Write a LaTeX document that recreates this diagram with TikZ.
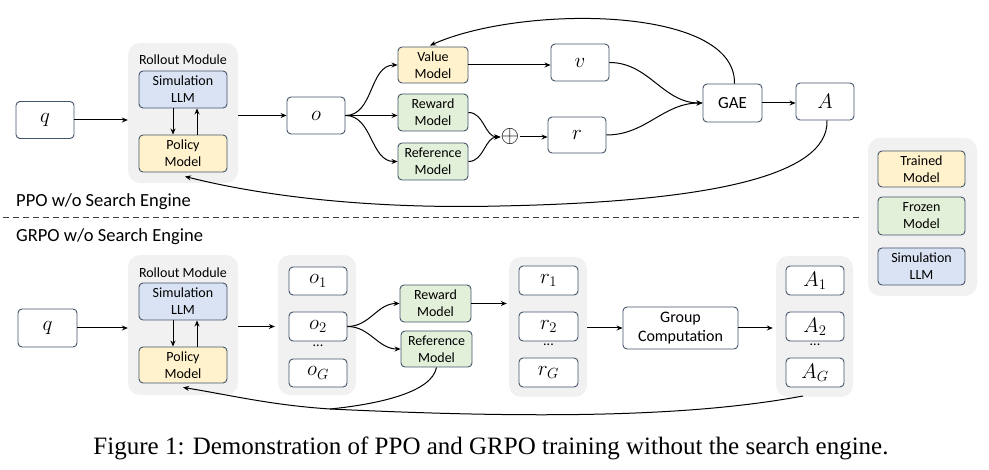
\RequirePackage{fix-cm}
\documentclass[tikz,border=0pt]{standalone}
\usepackage{fontspec}
\setmainfont{Carlito}
\newfontfamily\capfont{Liberation Serif}
\usetikzlibrary{arrows.meta,calc}
\definecolor{bordc}{HTML}{44546A}
\definecolor{grayfill}{HTML}{F1F1F1}
\definecolor{yellowfill}{HTML}{FFF2CC}
\definecolor{greenfill}{HTML}{E2F0D9}
\definecolor{bluefill}{HTML}{DAE3F3}
\definecolor{dashcol}{HTML}{404040}
\tikzset{
  box/.style={draw=bordc, line width=0.9pt, rounded corners=4pt, fill=white, align=center, inner sep=1pt, font=\fontsize{14}{17}\selectfont},
  mbox/.style={box, font=\fontsize{21}{22}\selectfont},
  ybox/.style={box, fill=yellowfill},
  gbox/.style={box, fill=greenfill},
  bbox/.style={box, fill=bluefill},
  grp/.style={draw=none, fill=grayfill, rounded corners=12pt},
  arr/.style={line width=1pt, -{Stealth[length=6pt,width=5pt]}},
  ln/.style={line width=1pt},
  sect/.style={anchor=west, inner sep=0pt, font=\fontsize{18.5}{20}\selectfont},
  lbl/.style={inner sep=0pt, font=\fontsize{14}{17}\selectfont},
}
\begin{document}
\begin{tikzpicture}[x=1pt,y=-1pt]
\useasboundingbox (0,0) rectangle (989,470);
% ================= PPO =================
\node[grp, minimum width=110, minimum height=140] (roll1) at (183,113) {};
\node[lbl] (roll1lbl) at (183,60) {Rollout Module};
\node[bbox, minimum width=88, minimum height=37] (sim1) at (183,89.5) {Simulation\\LLM};
\node[ybox, minimum width=88, minimum height=37] (pol1) at (183,153.5) {Policy\\Model};
\node[mbox, minimum width=58, minimum height=37] (q1) at (45,120) {$q$};
\node[mbox, minimum width=58, minimum height=37] (o) at (316,115.5) {$o$};
\node[ybox, minimum width=70, minimum height=36] (val) at (433,65) {Value\\Model};
\node[gbox, minimum width=70, minimum height=37] (rew) at (433,112.5) {Reward\\Model};
\node[gbox, minimum width=70, minimum height=37] (ref) at (433,161.5) {Reference\\Model};
\node[inner sep=0pt, font=\fontsize{24}{24}\selectfont] (plus) at (510,137) {$\oplus$};
\node[mbox, minimum width=58, minimum height=36] (r) at (577,135) {$r$};
\node[mbox, minimum width=58, minimum height=37] (v) at (580,62.5) {$v$};
\node[box, font=\fontsize{17}{20}\selectfont, minimum width=59, minimum height=38] (gae) at (732.5,103) {GAE};
\node[mbox, minimum width=58, minimum height=37] (A) at (825,101.5) {$A$};

\draw[arr] (q1.east) -- (roll1.west |- q1.east);
\draw[arr] (roll1.east |- o.west) -- (o.west);
\draw[arr] ($(sim1.south)+(-10,0)$) -- ($(pol1.north)+(-10,0)$);
\draw[arr] ($(pol1.north)+(14,0)$) -- ($(sim1.south)+(14,0)$);
\draw[arr] (o.east) to[out=0,in=180] (val.west);
\draw[arr] (o.east) -- (rew.west |- o.east);
\draw[arr] (o.east) to[out=0,in=180] (ref.west);
\draw[arr] (rew.east) to[out=0,in=180] (plus.west);
\draw[arr] (ref.east) to[out=0,in=180] (plus.west);
\draw[arr] (plus.east) -- (r.west |- plus.east);
\draw[arr] (val.east) -- (v.west |- val.east);
\draw[arr] (v.east) to[out=0,in=180] (gae.west);
\draw[arr] (r.east) to[out=0,in=180] (gae.west);
\draw[arr] (gae.east) -- (A.west |- gae.east);
\draw[arr] ($(gae.north)+(2,0)$) .. controls (736,5) and (520,5) .. ($(val.north)+(-3,-1)$);
\draw[arr] ($(A.south)+(2,0)$) .. controls (829,178) and (700,202) .. (500,206) .. controls (380,209) and (270,198) .. ($(pol1.south)+(2,4)$);

% ================= divider =================
\node[sect] (ppo) at (16,202) {PPO w/o Search Engine};
\coordinate (dl) at (3,218);
\coordinate (dr) at (863,218);
\draw[line width=1pt, dashcol, dash pattern=on 6pt off 4pt] (dl) -- (dr);
\node[sect] (grpo) at (16,237) {GRPO w/o Search Engine};

% ================= legend =================
\node[grp, minimum width=109, minimum height=158] (leg) at (922.5,217) {};
\node[ybox, minimum width=87, minimum height=36] (lt) at (921.5,169) {Trained\\Model};
\node[gbox, minimum width=87, minimum height=38] (lf) at (921.5,216) {Frozen\\Model};
\node[bbox, minimum width=87, minimum height=37] (ls) at (921.5,266.5) {Simulation\\LLM};

% ================= GRPO =================
\node[grp, minimum width=110, minimum height=140] (roll2) at (183,325) {};
\node[lbl] (roll2lbl) at (183,273) {Rollout Module};
\node[bbox, minimum width=88, minimum height=37] (sim2) at (183,301.5) {Simulation\\LLM};
\node[ybox, minimum width=88, minimum height=36] (pol2) at (183,365) {Policy\\Model};
\node[mbox, minimum width=59, minimum height=38] (q2) at (47.5,328) {$q$};

\node[grp, minimum width=78, minimum height=140] (ogrp) at (317,325) {};
\node[mbox, minimum width=58, minimum height=28] (o1) at (318,281) {$o_1$};
\node[mbox, minimum width=58, minimum height=29] (o2) at (318,326.5) {$o_2$};
\node[lbl] (odots) at (318,346) {...};
\node[mbox, minimum width=58, minimum height=28] (oG) at (318,373) {$o_G$};

\node[gbox, minimum width=71, minimum height=37] (rew2) at (435.5,303.5) {Reward\\Model};
\node[gbox, minimum width=71, minimum height=36] (ref2) at (436.5,349) {Reference\\Model};

\node[grp, minimum width=78, minimum height=140] (rgrp) at (548,327) {};
\node[mbox, minimum width=59, minimum height=29] (r1) at (548.5,280.5) {$r_1$};
\node[mbox, minimum width=59, minimum height=29] (r2) at (548.5,326.5) {$r_2$};
\node[lbl] (rdots) at (548.5,345) {...};
\node[mbox, minimum width=59, minimum height=29] (rG) at (548.5,372.5) {$r_G$};

\node[box, font=\fontsize{16}{19}\selectfont, minimum width=115, minimum height=42] (gc) at (680.5,328) {Group\\Computation};

\node[grp, minimum width=77, minimum height=141] (agrp) at (814.5,326.5) {};
\node[mbox, minimum width=58, minimum height=29] (A1) at (815,280.5) {$A_1$};
\node[mbox, minimum width=58, minimum height=29] (A2) at (815,326.5) {$A_2$};
\node[lbl] (adots) at (815,345) {...};
\node[mbox, minimum width=58, minimum height=29] (AG) at (815,372.5) {$A_G$};

\draw[arr] (q2.east) -- (roll2.west |- q2.east);
\draw[arr] (roll2.east |- o2.west) -- ($(ogrp.west |- o2.west)+(-3,0)$);
\draw[arr] ($(sim2.south)+(-10,0)$) -- ($(pol2.north)+(-10,0)$);
\draw[arr] ($(pol2.north)+(14,0)$) -- ($(sim2.south)+(14,0)$);
\draw[arr] (o2.east) to[out=0,in=180] (rew2.west);
\draw[arr] (o2.east) to[out=0,in=180] (ref2.west);
\draw[arr] (rew2.east) -- ($(rgrp.west |- rew2.east)+(-2,0)$);
\draw[arr] (rgrp.east |- gc.west) -- (gc.west);
\draw[arr] (gc.east) -- ($(agrp.west |- gc.east)+(-3,0)$);
\coordinate (fb) at (803,396);
\coordinate (mg) at (330,409);
\draw[ln] (ref2.south) .. controls (432,392) and (380,404) .. (mg);
\draw[arr] (fb) .. controls (700,415) and (560,420) .. (mg) .. controls (270,405) and (230,395) .. ($(pol2.south)+(0,4)$);

% ================= caption =================
\node[inner sep=0pt, font=\capfont\fontsize{25}{28}\selectfont] (cap) at (491,448) {Figure 1: Demonstration of PPO and GRPO training without the search engine.};
\end{tikzpicture}
\end{document}
